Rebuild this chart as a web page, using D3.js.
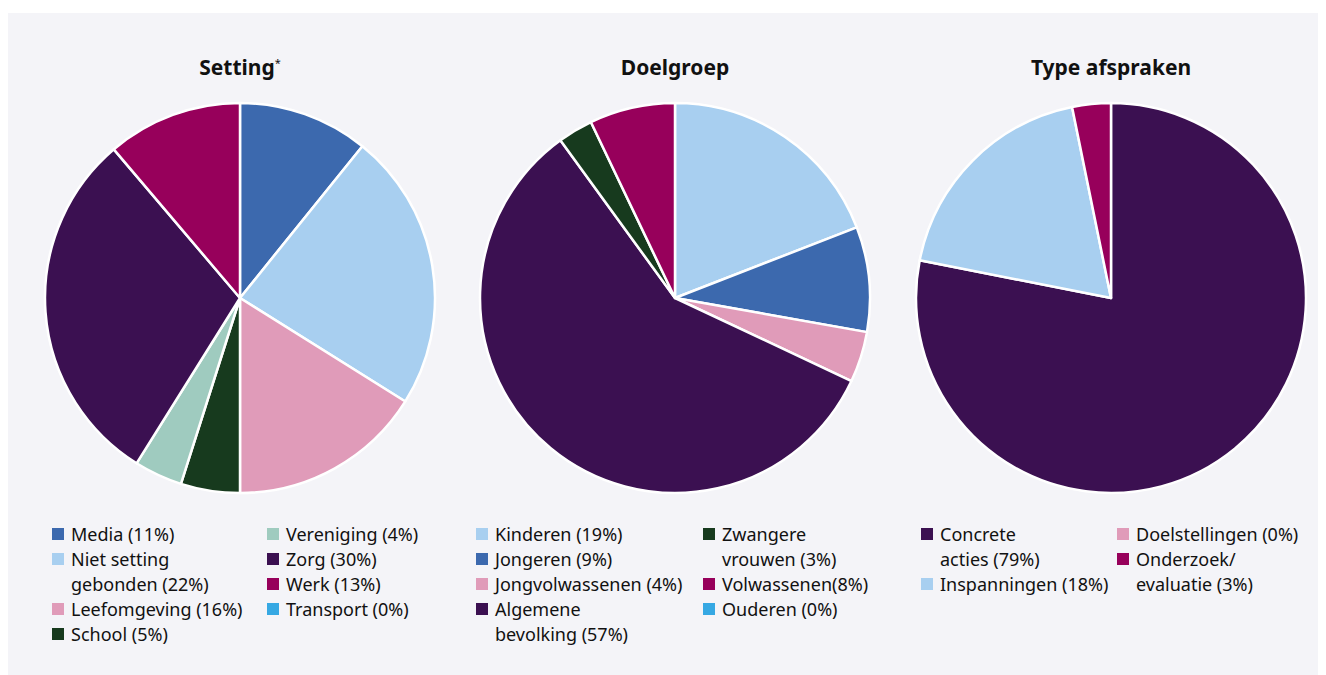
<!DOCTYPE html>
<html>
<head>
<meta charset="utf-8">
<script src="https://cdn.jsdelivr.net/npm/d3@7"></script>
<style>
  body { margin: 0; background: #ffffff; }
  text { font-family: "Noto Sans", "Open Sans", sans-serif; fill: #111; }
</style>
</head>
<body>
<div id="chart"></div>
<script>
// Setting (clockwise from top)
var settingCats = ["Media", "Niet setting gebonden", "Leefomgeving", "School", "Vereniging", "Zorg", "Werk", "Transport"];
var settingVals = [10.8, 23.1, 16.1, 4.9, 4.0, 29.9, 11.2, 0];
var settingLegend = [["Media (11%)"], ["Niet setting", "gebonden (22%)"], ["Leefomgeving (16%)"], ["School (5%)"],
                     ["Vereniging (4%)"], ["Zorg (30%)"], ["Werk (13%)"], ["Transport (0%)"]];

// Doelgroep
var doelCats = ["Kinderen", "Jongeren", "Jongvolwassenen", "Algemene bevolking", "Zwangere vrouwen", "Volwassenen", "Ouderen"];
var doelVals = [19.1, 8.7, 4.2, 58.0, 2.9, 7.1, 0];
var doelLegend = [["Kinderen (19%)"], ["Jongeren (9%)"], ["Jongvolwassenen (4%)"], ["Algemene", "bevolking (57%)"],
                  ["Zwangere", "vrouwen (3%)"], ["Volwassenen(8%)"], ["Ouderen (0%)"]];

// Type afspraken
var typeCats = ["Concrete acties", "Inspanningen", "Onderzoek/evaluatie", "Doelstellingen"];
var typeVals = [78.1, 18.7, 3.2, 0];
var typeLegend = [["Concrete", "acties (79%)"], ["Inspanningen (18%)"], ["Onderzoek/", "evaluatie (3%)"], ["Doelstellingen (0%)"]];

var colors = {
  "Media": "#3c69ae", "Niet setting gebonden": "#a8cff0", "Leefomgeving": "#e09bb9", "School": "#173a1e",
  "Vereniging": "#9fcbbf", "Zorg": "#3b1051", "Werk": "#97005b", "Transport": "#36a8e3",
  "Kinderen": "#a8cff0", "Jongeren": "#3c69ae", "Jongvolwassenen": "#e09bb9", "Algemene bevolking": "#3b1051",
  "Zwangere vrouwen": "#173a1e", "Volwassenen": "#97005b", "Ouderen": "#36a8e3",
  "Concrete acties": "#3b1051", "Inspanningen": "#a8cff0", "Onderzoek/evaluatie": "#97005b", "Doelstellingen": "#e09bb9"
};

var width = 1326, height = 675, radius = 195;

var svg = d3.select("#chart").append("svg")
  .attr("width", width).attr("height", height);

// panel background
svg.append("rect").attr("x", 8).attr("y", 13).attr("width", 1310).attr("height", 662).attr("fill", "#f4f4f8");

// legend layout per chart: column x for square, and the legend order (index) per column/row
var charts = [
  { title: "Setting", star: true, cx: 240, cats: settingCats, vals: settingVals, legend: settingLegend,
    cols: [{ x: 52, items: [0, 1, 2, 3] }, { x: 267, items: [4, 5, 6, 7] }] },
  { title: "Doelgroep", cx: 675, cats: doelCats, vals: doelVals, legend: doelLegend,
    cols: [{ x: 476, items: [0, 1, 2, 3] }, { x: 703, items: [4, 5, 6] }] },
  { title: "Type afspraken", cx: 1111, cats: typeCats, vals: typeVals, legend: typeLegend,
    cols: [{ x: 921, items: [0, 1] }, { x: 1117, items: [3, 2] }] }
];

var cy = 298;
var arc = d3.arc().innerRadius(0).outerRadius(radius);
var pie = d3.pie().sort(null).value(function(d) { return d.value; });

charts.forEach(function(c) {
  var g = svg.append("g").attr("transform", "translate(" + c.cx + "," + cy + ")");

  var data = c.cats.map(function(k, i) { return { key: k, value: c.vals[i] }; });

  g.selectAll("path")
    .data(pie(data).filter(function(d) { return d.data.value > 0; }))
    .enter().append("path")
    .attr("d", arc)
    .attr("fill", function(d) { return colors[d.data.key]; })
    .attr("stroke", "white")
    .style("stroke-width", "2.5px")
    .style("stroke-linejoin", "round");

  // title
  var t = svg.append("text")
    .attr("x", c.cx).attr("y", 75)
    .attr("text-anchor", "middle")
    .style("font-size", "21px").style("font-weight", "bold")
    .text(c.title);
  if (c.star) {
    t.append("tspan").attr("dy", -8).style("font-size", "11px").style("font-weight", "normal").text("*");
  }

  // legend
  c.cols.forEach(function(col) {
    var y = 541;
    col.items.forEach(function(i) {
      svg.append("rect")
        .attr("x", col.x).attr("y", y - 13).attr("width", 12).attr("height", 12)
        .attr("fill", colors[c.cats[i]]);
      c.legend[i].forEach(function(line, j) {
        svg.append("text")
          .attr("x", col.x + 19).attr("y", y + j * 25)
          .style("font-size", "18px")
          .text(line);
      });
      y += 25 * c.legend[i].length;
    });
  });
});
</script>
</body>
</html>
